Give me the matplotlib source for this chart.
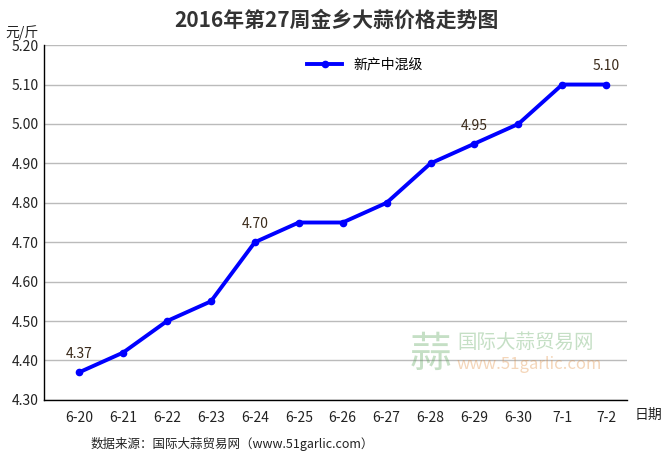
import matplotlib.pyplot as plt

plt.rcParams['font.family'] = ['Noto Sans CJK SC', 'DejaVu Sans']

dates = ['6-20', '6-21', '6-22', '6-23', '6-24', '6-25', '6-26',
         '6-27', '6-28', '6-29', '6-30', '7-1', '7-2']
prices = [4.37, 4.42, 4.50, 4.55, 4.70, 4.75, 4.75, 4.80, 4.90, 4.95, 5.00, 5.10, 5.10]
labelled = [0, 4, 9, 12]
yticks = [4.30, 4.40, 4.50, 4.60, 4.70, 4.80, 4.90, 5.00, 5.10, 5.20]

fig = plt.figure(figsize=(6.72, 4.65), dpi=100)
ax = fig.add_axes([0.0655, 0.140, 0.868, 0.763])

x = list(range(len(dates)))
ax.plot(x, prices, color='#0000ff', lw=2.8, marker='o', ms=4.5, label='新产中混级', zorder=3)

for i in labelled:
    ax.annotate(f'{prices[i]:.2f}', (x[i], prices[i]), xytext=(0, 8),
                textcoords='offset points', ha='center', va='bottom',
                fontsize=10, color='#3a2a1a')

ax.set_xlim(-0.8, 12.48)
ax.set_ylim(4.30, 5.20)
ax.set_yticks(yticks)
ax.set_yticklabels([f'{v:.2f}' for v in yticks], fontsize=10, color='#222222')
ax.set_xticks(x)
ax.set_xticklabels(dates, fontsize=10, color='#222222')
ax.tick_params(length=0, pad=8)
ax.tick_params(axis='y', pad=4)
ax.grid(axis='y', color='#bbbbbb', lw=1)
ax.set_axisbelow(True)
for s in ['top', 'right']:
    ax.spines[s].set_visible(False)
for s in ['left', 'bottom']:
    ax.spines[s].set_color('#000000')
    ax.spines[s].set_linewidth(1)

ax.legend(loc='upper center', bbox_to_anchor=(0.55, 1.0), frameon=False,
          fontsize=10, handlelength=2.5)

fig.text(0.5, 0.957, '2016年第27周金乡大蒜价格走势图', ha='center', va='center',
         fontsize=15, fontweight='bold', color='#333333')
fig.text(0.008, 0.93, '元/斤', ha='left', va='center', fontsize=10, color='#222222')
fig.text(0.945, 0.14 - 0.032, '日期', ha='left', va='center', fontsize=10, color='#222222')
fig.text(0.134, 0.045, '数据来源：国际大蒜贸易网（www.51garlic.com）', ha='left', va='center',
         fontsize=9, color='#222222')

# watermark
fig.text(0.61, 0.235, '蒜', fontsize=30, color='#5aa55a', alpha=0.35, ha='left', va='center')
fig.text(0.68, 0.24, '国际大蒜贸易网', fontsize=14, color='#5aa55a', alpha=0.35,
         ha='left', va='bottom')
fig.text(0.68, 0.235, 'www.51garlic.com', fontsize=12, color='#e08a3a', alpha=0.35,
         ha='left', va='top', style='italic')

fig.savefig('out.png', dpi=100)
